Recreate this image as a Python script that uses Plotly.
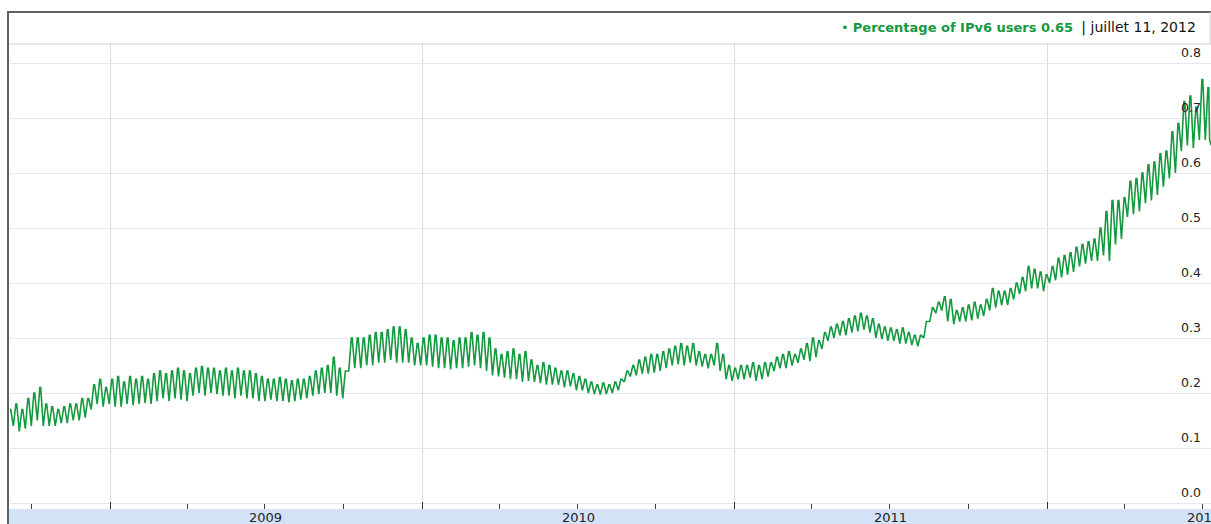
import datetime as dt
import plotly.graph_objects as go

# ---- data (weekly: weekday level and weekend peak) ----
first_monday = "2008-09-01"
weekday_low = [
    0.15,
    0.14, 0.13, 0.135, 0.14, 0.15, 0.14, 0.14, 0.14, 0.145, 0.145,
    0.15, 0.15, 0.155, 0.17, 0.18, 0.175, 0.18, 0.175, 0.175, 0.18,
    0.178, 0.18, 0.182, 0.18, 0.185, 0.19, 0.185, 0.19, 0.188, 0.185,
    0.195, 0.2, 0.195, 0.2, 0.198, 0.195, 0.195, 0.19, 0.195, 0.19,
    0.19, 0.185, 0.185, 0.188, 0.185, 0.185, 0.183, 0.185, 0.188, 0.19,
    0.195, 0.198, 0.2, 0.2, 0.195, 0.19, 0.24, 0.245, 0.245, 0.25,
    0.25, 0.255, 0.255, 0.26, 0.255, 0.255, 0.255, 0.25, 0.25, 0.25,
    0.248, 0.245, 0.245, 0.243, 0.245, 0.245, 0.248, 0.25, 0.245, 0.24,
    0.232, 0.23, 0.228, 0.225, 0.225, 0.22, 0.222, 0.22, 0.218, 0.215,
    0.215, 0.215, 0.21, 0.212, 0.205, 0.205, 0.2, 0.198, 0.197, 0.198,
    0.2, 0.205, 0.22, 0.23, 0.232, 0.235, 0.235, 0.237, 0.24, 0.245,
    0.25, 0.252, 0.25, 0.255, 0.25, 0.248, 0.245, 0.25, 0.24, 0.225,
    0.222, 0.225, 0.225, 0.228, 0.222, 0.225, 0.23, 0.24, 0.245, 0.245,
    0.25, 0.255, 0.26, 0.258, 0.265, 0.28, 0.295, 0.30, 0.305, 0.305,
    0.31, 0.312, 0.315, 0.31, 0.30, 0.298, 0.295, 0.295, 0.29, 0.29,
    0.287, 0.285, 0.30, 0.33, 0.345, 0.35, 0.33, 0.325, 0.33, 0.33,
    0.332, 0.335, 0.34, 0.35, 0.355, 0.36, 0.36, 0.37, 0.38, 0.385,
    0.39, 0.39, 0.385, 0.40, 0.405, 0.41, 0.415, 0.42, 0.43, 0.435,
    0.44, 0.44, 0.45, 0.44, 0.47, 0.48, 0.52, 0.525, 0.53, 0.545,
    0.55, 0.56, 0.575, 0.59, 0.60, 0.64, 0.65, 0.645, 0.66, 0.66,
]
weekend_high = [
    0.17,
    0.18, 0.17, 0.19, 0.20, 0.21, 0.18, 0.175, 0.17, 0.175, 0.18,
    0.18, 0.19, 0.19, 0.215, 0.225, 0.21, 0.225, 0.23, 0.22, 0.23,
    0.225, 0.23, 0.225, 0.235, 0.24, 0.235, 0.24, 0.245, 0.24, 0.235,
    0.245, 0.248, 0.245, 0.245, 0.24, 0.245, 0.24, 0.245, 0.24, 0.24,
    0.235, 0.23, 0.225, 0.225, 0.228, 0.225, 0.222, 0.225, 0.225, 0.23,
    0.24, 0.245, 0.25, 0.265, 0.245, 0.24, 0.30, 0.30, 0.30, 0.305,
    0.31, 0.31, 0.315, 0.32, 0.32, 0.315, 0.30, 0.29, 0.30, 0.305,
    0.305, 0.30, 0.30, 0.295, 0.30, 0.30, 0.31, 0.305, 0.31, 0.30,
    0.28, 0.27, 0.275, 0.28, 0.27, 0.275, 0.26, 0.25, 0.255, 0.25,
    0.245, 0.24, 0.24, 0.235, 0.23, 0.225, 0.22, 0.215, 0.218, 0.215,
    0.22, 0.225, 0.24, 0.25, 0.26, 0.265, 0.27, 0.27, 0.275, 0.28,
    0.285, 0.29, 0.285, 0.29, 0.275, 0.27, 0.27, 0.29, 0.27, 0.25,
    0.245, 0.25, 0.25, 0.255, 0.25, 0.255, 0.255, 0.265, 0.27, 0.275,
    0.27, 0.28, 0.29, 0.30, 0.295, 0.31, 0.32, 0.325, 0.33, 0.335,
    0.34, 0.345, 0.34, 0.335, 0.325, 0.32, 0.318, 0.315, 0.318, 0.31,
    0.305, 0.305, 0.33, 0.355, 0.365, 0.375, 0.37, 0.35, 0.355, 0.36,
    0.365, 0.36, 0.37, 0.39, 0.385, 0.385, 0.39, 0.40, 0.41, 0.43,
    0.425, 0.42, 0.415, 0.43, 0.445, 0.45, 0.455, 0.465, 0.47, 0.475,
    0.48, 0.50, 0.53, 0.55, 0.55, 0.555, 0.585, 0.59, 0.60, 0.615,
    0.62, 0.635, 0.64, 0.675, 0.69, 0.73, 0.74, 0.72, 0.77, 0.755,
]
tail_dates = ["2012-07-09", "2012-07-11"]
tail_values = [0.66, 0.65]

y_tick_values = [0.0, 0.1, 0.2, 0.3, 0.4, 0.5, 0.6, 0.7, 0.8]
y_tick_labels = ["0.0", "0.1", "0.2", "0.3", "0.4", "0.5", "0.6", "0.7", "0.8"]
year_labels = ["2009", "2010", "2011", "2012"]
year_label_dates = ["2009-07-02", "2010-07-02", "2011-07-02", "2012-07-02"]
legend_name = "Percentage of IPv6 users"
legend_value = "0.65"
legend_date = "juillet 11, 2012"

# ---- build the weekly pattern series from the readings ----
start = dt.date.fromisoformat(first_monday)
dates, values = [], []
for i, (lo, hi) in enumerate(zip(weekday_low, weekend_high)):
    mon = start + dt.timedelta(days=7 * i)
    for off, v in ((2, lo), (5, hi), (6, hi)):
        dates.append(mon + dt.timedelta(days=off))
        values.append(v)
dates += [dt.date.fromisoformat(d) for d in tail_dates]
values += tail_values

GREEN = "#14993f"
FONT = "DejaVu Sans"

W, H = 1211, 524
ML, MR, MT, MB = 10, 0, 44, 15
PW, PH = W - ML - MR, H - MT - MB


def px(xpix):
    return (xpix - ML) / PW


def py(ypix):
    return 1 - (ypix - MT) / PH


fig = go.Figure()
fig.add_trace(go.Scatter(
    x=dates, y=values, mode="lines",
    line=dict(color=GREEN, width=1.6),
    name=legend_name, showlegend=False, hoverinfo="skip",
))

shapes = [
    dict(type="rect", xref="paper", yref="paper", x0=px(9), x1=px(1212), y0=py(525), y1=py(509),
         fillcolor="#d3e2f7", line=dict(width=0), layer="below"),
    dict(type="line", xref="paper", yref="paper", x0=px(8), x1=px(1212), y0=py(44), y1=py(44),
         line=dict(color="#cfcfcf", width=1)),
    dict(type="line", xref="paper", yref="paper", x0=px(7), x1=px(1212), y0=py(12), y1=py(12),
         line=dict(color="#606060", width=2)),
    dict(type="line", xref="paper", yref="paper", x0=px(8), x1=px(8), y0=py(525), y1=py(12),
         line=dict(color="#606060", width=2)),
    dict(type="line", xref="paper", yref="paper", x0=px(1210), x1=px(1210), y0=py(12), y1=py(44),
         line=dict(color="#cfcfcf", width=1)),
]

legend_html = (
    f'<span style="color:{GREEN};font-size:13px">\u2022 <b>{legend_name} {legend_value}</b></span>'
    f'  <span style="color:#111;font-size:14px">| {legend_date}</span>'
)

annotations = [dict(
    xref="paper", yref="paper", x=px(1198), y=py(28), xanchor="right", yanchor="middle",
    text=legend_html, showarrow=False, font=dict(family=FONT, size=13),
)]
# y-axis labels, sitting just above their grid lines, right-aligned inside the plot
for v, t in zip(y_tick_values, y_tick_labels):
    annotations.append(dict(
        xref="paper", yref="y", x=px(1203), y=v, yshift=11,
        xanchor="right", yanchor="middle", text=t, showarrow=False,
        font=dict(family=FONT, size=12.5, color="#222"),
    ))
# year labels in the bottom band, centred on each year
for d, t in zip(year_label_dates, year_labels):
    annotations.append(dict(
        xref="x", yref="paper", x=d, y=py(517),
        xanchor="center", yanchor="middle", text=t, showarrow=False,
        font=dict(family=FONT, size=13, color="#222"),
    ))

fig.update_layout(
    width=W, height=H,
    margin=dict(l=ML, r=MR, t=MT, b=MB, pad=0),
    paper_bgcolor="white", plot_bgcolor="white",
    font=dict(family=FONT, size=11, color="#222"),
    shapes=shapes,
    annotations=annotations,
    xaxis=dict(
        type="date",
        range=["2008-09-06 03:00", "2012-07-10 15:00"],
        tickmode="linear", tick0="2009-01-01", dtick="M12",
        showticklabels=False,
        ticks="inside", ticklen=7, tickwidth=1, tickcolor="#333",
        showgrid=True, gridcolor="#dcdcdc", gridwidth=1,
        showline=False, zeroline=False,
        minor=dict(dtick="M3", tick0="2009-01-01", ticks="inside", ticklen=5,
                   tickcolor="#444", tickwidth=1, showgrid=False),
        fixedrange=True,
    ),
    yaxis=dict(
        range=[(503 - 509) / 550, (503 - 44) / 550],
        tickmode="array", tickvals=y_tick_values,
        showticklabels=False, ticks="",
        showgrid=True, gridcolor="#e6e6f4", gridwidth=1,
        zeroline=False, showline=False,
        fixedrange=True,
    ),
)

fig.write_html("out.html", config={"displayModeBar": False},
               post_script="document.body.style.margin='0';")
